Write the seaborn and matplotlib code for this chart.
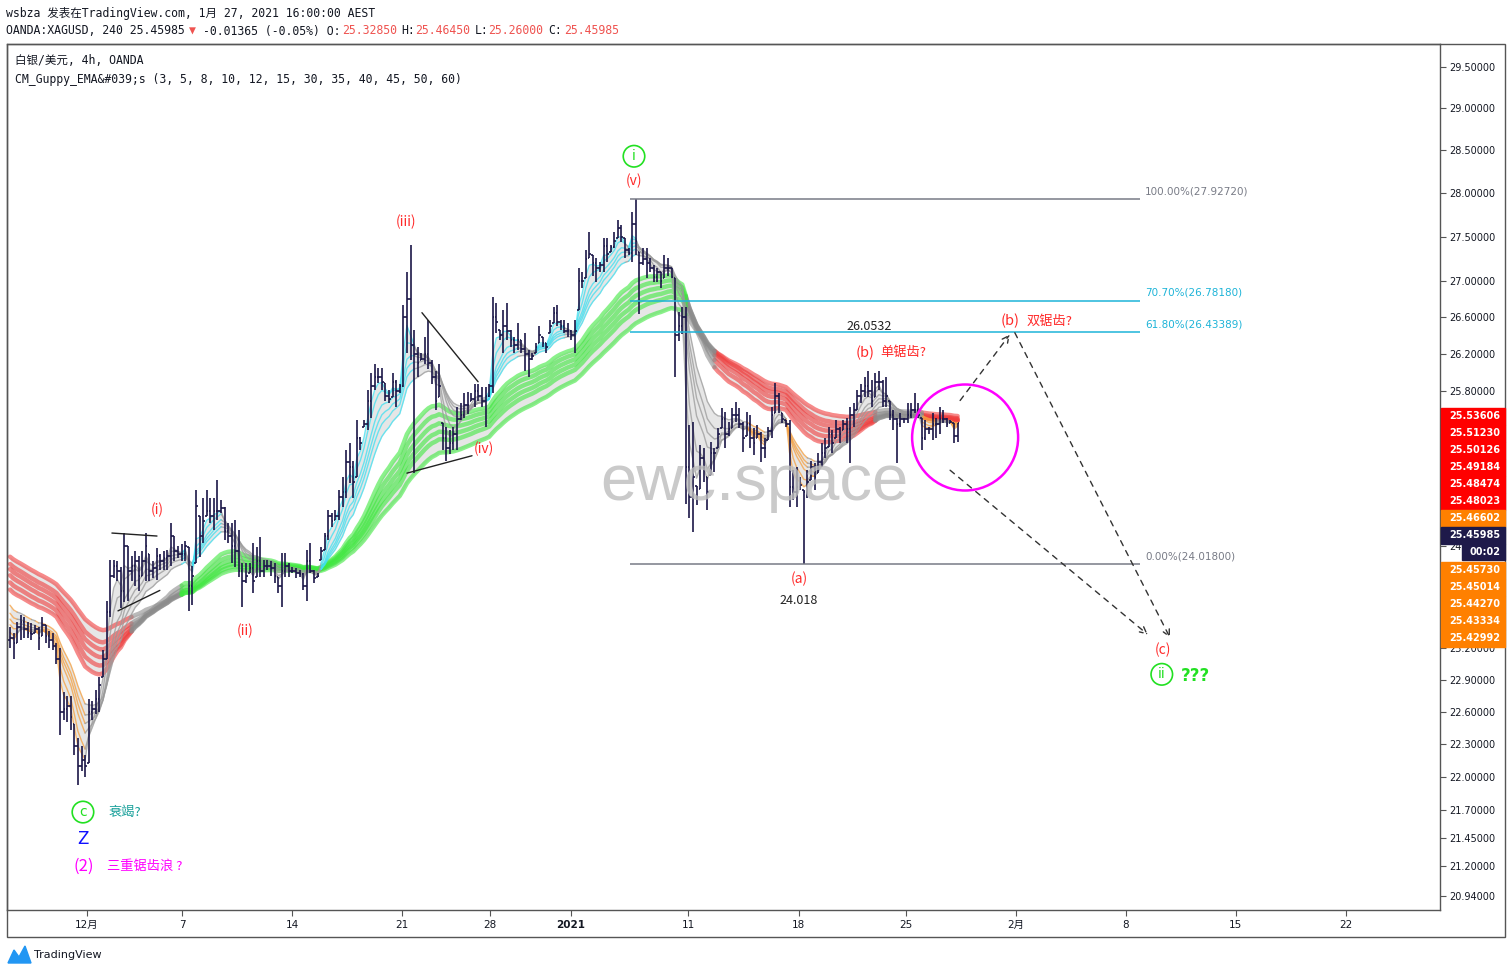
import numpy as np
import pandas as pd
import seaborn as sns
import matplotlib.pyplot as plt
from matplotlib.patches import Rectangle, Ellipse, Polygon

W, H = 1510, 974

# ---- OHLC (4h bars, XAGUSD) ----
highs = [23.40, 23.35, 23.45, 23.52, 23.50, 23.45, 23.44, 23.42, 23.40, 23.50,
         23.42, 23.36, 23.35, 23.25, 23.20, 22.78, 22.75, 22.75, 22.48, 22.35,
         22.28, 22.20, 22.72, 22.70, 22.80, 22.92, 23.18, 23.66, 24.06, 24.06,
         24.05, 23.99, 24.33, 24.20, 24.10, 24.15, 24.10, 24.15, 24.33, 24.12,
         24.05, 24.18, 24.12, 24.15, 24.16, 24.43, 24.30, 24.20, 24.22, 24.25,
         24.19, 24.00,
         24.77, 24.50, 24.69, 24.77, 24.69, 24.69, 24.87, 24.66, 24.59, 24.43,
         24.43, 24.46, 24.36, 24.03, 24.03, 24.03, 24.23, 24.19, 24.29, 24.06,
         24.06, 24.05, 24.03, 23.89, 24.13, 24.13, 24.03, 23.99, 23.98, 23.96,
         23.93, 24.16, 24.23, 23.96, 23.93, 24.19, 24.33, 24.56, 24.53, 24.56,
         24.77, 24.90, 25.18, 25.25, 25.07, 25.49, 25.32, 25.49, 25.81, 25.99,
         26.09, 26.05, 26.05, 25.89, 25.81, 25.99, 25.92, 25.88, 26.74, 27.10,
         27.41, 26.46, 26.28, 26.21, 26.38, 26.57, 26.13, 26.02, 26.09, 25.46,
         25.42, 25.39, 25.42, 25.63, 25.67, 25.78, 25.79, 25.78, 25.88, 25.88,
         25.84, 25.84, 25.88, 26.82, 26.76, 26.46, 26.68, 26.76, 26.46, 26.38,
         26.54, 26.35, 26.43, 26.24, 26.21, 26.32, 26.50, 26.38, 26.32, 26.57,
         26.71, 26.74, 26.57, 26.57, 26.54, 26.46, 26.57, 27.15, 27.10, 27.35,
         27.55, 27.29, 27.26, 27.21, 27.48, 27.49, 27.41, 27.55, 27.69, 27.63,
         27.49, 27.37, 27.78,
         27.927, 27.33, 27.37, 27.37, 27.26, 27.18, 27.15, 27.10, 27.29, 27.26,
         27.15, 27.03, 26.66, 26.71,
         26.71, 25.44, 25.47, 24.81, 25.23, 25.20, 24.90, 25.26, 25.20, 25.41,
         25.62, 25.58, 25.47, 25.62, 25.68, 25.62, 25.47, 25.58, 25.55, 25.41,
         25.44, 25.37, 25.31, 25.42, 25.63, 25.89, 25.78, 25.57, 25.49, 25.49,
         24.97, 25.00, 24.90,
         24.77, 24.97, 25.07, 25.04, 25.15, 25.25, 25.31, 25.42, 25.39, 25.49,
         25.42, 25.49, 25.52, 25.63, 25.67, 25.81, 25.88, 25.95, 26.02, 25.92,
         25.99, 26.02, 25.92, 25.95, 25.70, 25.60, 25.52, 25.57, 25.52, 25.67,
         25.67, 25.78, 25.67, 25.52, 25.49, 25.42, 25.57, 25.52, 25.63, 25.60,
         25.52, 25.49, 25.46, 25.4645]
lows = [23.20, 23.10, 23.25, 23.28, 23.30, 23.30, 23.28, 23.35, 23.18, 23.32,
        23.25, 23.20, 23.18, 23.05, 22.38, 22.52, 22.50, 22.43, 22.20, 21.92,
        22.05, 22.00, 22.12, 22.52, 22.58, 22.60, 22.92, 23.10, 23.50, 23.88,
        23.85, 23.59, 23.65, 23.66, 23.85, 23.80, 23.75, 23.90, 23.85, 23.85,
        23.88, 23.86, 23.96, 23.96, 23.96, 24.00, 24.05, 24.08, 24.05, 24.05,
        23.56, 23.62,
        24.03, 24.09, 24.23, 24.50, 24.43, 24.36, 24.46, 24.53, 24.26, 24.23,
        24.03, 23.99, 23.89, 23.60, 23.83, 23.93, 23.73, 23.89, 23.89, 23.89,
        23.96, 23.90, 23.83, 23.73, 23.60, 23.89, 23.89, 23.93, 23.88, 23.89,
        23.76, 23.66, 23.93, 23.83, 23.89, 24.06, 24.16, 24.26, 24.39, 24.46,
        24.46, 24.59, 24.69, 24.84, 24.69, 24.90, 25.18, 25.42, 25.39, 25.52,
        25.81, 25.89, 25.81, 25.70, 25.67, 25.74, 25.63, 25.78, 25.84, 26.21,
        26.13, 24.94, 25.95, 26.13, 26.09, 26.04, 25.88, 25.60, 25.74, 25.18,
        25.07, 25.14, 25.18, 25.18, 25.49, 25.52, 25.56, 25.70, 25.63, 25.70,
        25.63, 25.42, 25.74, 25.78, 26.43, 26.35, 26.21, 26.35, 26.28, 26.21,
        26.24, 26.21, 26.02, 25.95, 26.13, 26.21, 26.32, 26.28, 26.21, 26.43,
        26.54, 26.50, 26.46, 26.43, 26.38, 26.35, 26.21, 26.68, 26.92, 27.03,
        27.26, 27.06, 26.99, 27.10, 27.10, 27.21, 27.33, 27.37, 27.48, 27.44,
        27.26, 27.29, 27.21,
        27.29, 26.63, 27.18, 27.03, 27.10, 26.99, 26.99, 26.92, 27.03, 27.06,
        27.03, 25.95, 26.34, 26.42,
        24.62, 24.48, 24.34, 24.61, 24.78, 24.85, 24.56, 24.92, 24.95, 25.20,
        25.41, 25.20, 25.33, 25.41, 25.47, 25.41, 25.16, 25.33, 25.20, 25.13,
        25.30, 25.05, 25.10, 25.28, 25.31, 25.57, 25.57, 25.46, 25.42, 24.59,
        24.66, 24.59, 24.77,
        24.018, 24.69, 24.87, 24.77, 24.94, 25.00, 25.10, 25.21, 25.15, 25.31,
        25.25, 25.39, 25.25, 25.04, 25.42, 25.60, 25.67, 25.74, 25.74, 25.63,
        25.74, 25.81, 25.63, 25.63, 25.49, 25.39, 25.04, 25.42, 25.46, 25.46,
        25.52, 25.57, 25.52, 25.18, 25.28, 25.35, 25.28, 25.31, 25.35, 25.46,
        25.42, 25.46, 25.25, 25.26]
closes = [23.30, 23.25, 23.40, 23.45, 23.38, 23.35, 23.34, 23.38, 23.30, 23.42,
          23.32, 23.28, 23.22, 23.10, 22.60, 22.62, 22.65, 22.55, 22.28, 22.10,
          22.15, 22.10, 22.60, 22.62, 22.72, 22.85, 23.10, 23.55, 23.90, 24.00,
          23.95, 23.75, 24.20, 23.95, 24.00, 24.05, 23.90, 24.05, 24.20, 23.95,
          23.98, 24.10, 24.05, 24.08, 24.10, 24.30, 24.15, 24.12, 24.12, 24.20,
          23.80, 23.90,
          24.60, 24.30, 24.45, 24.55, 24.50, 24.55, 24.55, 24.58, 24.35, 24.30,
          24.20, 24.15, 23.95, 23.85, 23.90, 23.98, 23.85, 24.05, 23.95, 24.00,
          24.00, 23.98, 23.90, 23.80, 23.95, 24.00, 23.95, 23.95, 23.93, 23.92,
          23.80, 24.05, 23.95, 23.88, 23.90, 24.15, 24.30, 24.50, 24.45, 24.50,
          24.70, 24.75, 25.05, 25.00, 24.85, 25.30, 25.25, 25.45, 25.70, 25.85,
          25.95, 25.95, 25.90, 25.75, 25.72, 25.90, 25.80, 25.85, 26.60, 26.80,
          26.30, 26.20, 26.10, 26.15, 26.20, 26.10, 25.95, 25.70, 25.85, 25.30,
          25.20, 25.25, 25.35, 25.50, 25.55, 25.65, 25.65, 25.72, 25.80, 25.75,
          25.70, 25.75, 25.85, 26.60, 26.55, 26.40, 26.50, 26.45, 26.35, 26.30,
          26.35, 26.25, 26.20, 26.15, 26.18, 26.28, 26.40, 26.32, 26.28, 26.50,
          26.65, 26.55, 26.50, 26.45, 26.45, 26.40, 26.45, 27.00, 27.00, 27.25,
          27.30, 27.20, 27.15, 27.18, 27.40, 27.30, 27.38, 27.45, 27.60, 27.50,
          27.35, 27.32, 27.65,
          27.45, 27.20, 27.25, 27.20, 27.15, 27.05, 27.10, 27.00, 27.15, 27.15,
          27.05, 26.40, 26.50, 26.60,
          25.00, 24.70, 24.90, 24.70, 25.10, 25.00, 24.75, 25.15, 25.15, 25.35,
          25.50, 25.35, 25.40, 25.55, 25.55, 25.45, 25.30, 25.45, 25.30, 25.25,
          25.35, 25.20, 25.20, 25.38, 25.55, 25.75, 25.65, 25.50, 25.45, 24.80,
          24.75, 24.80, 24.82,
          24.75, 24.85, 25.00, 24.90, 25.05, 25.15, 25.20, 25.35, 25.25, 25.40,
          25.35, 25.45, 25.40, 25.55, 25.60, 25.75, 25.80, 25.85, 25.80, 25.70,
          25.90, 25.90, 25.70, 25.75, 25.55, 25.50, 25.45, 25.50, 25.50, 25.55,
          25.60, 25.60, 25.55, 25.30, 25.40, 25.40, 25.45, 25.45, 25.50, 25.50,
          25.45, 25.47, 25.33, 25.46]
first_open = 23.28

# Guppy EMA settings and their levels at the left edge of the chart
fast_spans = [3, 5, 8, 10, 12, 15]
slow_spans = [30, 35, 40, 45, 50, 60]
fast_seed = [23.32, 23.38, 23.46, 23.52, 23.58, 23.66]
slow_seed = [23.80, 23.87, 23.94, 24.00, 24.05, 24.12]

# fibonacci retracement anchors
fib_high = 27.9272
fib_low = 24.018
fib_ratios = [1.0, 0.707, 0.618, 0.0]

date_labels = ['12月', '7', '14', '21', '28', '2021', '11', '18', '25', '2月', '8', '15', '22']
date_slots = [21.5, 48.1, 78.9, 109.6, 134.2, 156.9, 189.6, 220.6, 250.6, 281.3, 312.1, 342.8, 373.6]
price_ticks = [29.5, 29.0, 28.5, 28.0, 27.5, 27.0, 26.6, 26.2, 25.8, 24.2, 23.2,
               22.9, 22.6, 22.3, 22.0, 21.7, 21.45, 21.2, 20.94]

# last values shown in the price scale
slow_last = ['25.53606', '25.51230', '25.50126', '25.49184', '25.48474', '25.48023']
fast_last_top = ['25.46602']
last_price = '25.45985'
fast_last_bottom = ['25.45730', '25.45014', '25.44270', '25.43334', '25.42992']

sns.set_theme(style='white')
plt.rcParams['font.family'] = ['DejaVu Sans', 'Noto Sans CJK SC']
MONO = ['DejaVu Sans Mono', 'Noto Sans CJK SC']
CJK = ['Noto Sans CJK SC', 'DejaVu Sans']

fig = plt.figure(figsize=(W / 100, H / 100), dpi=100)
fig.patch.set_facecolor('white')
ax = fig.add_axes([7 / W, 1 - 910 / H, (1440 - 7) / W, (910 - 44) / H])
ax.set_facecolor('white')

n = len(closes)
x = np.arange(n)
cl = pd.Series(closes)


def ema(seed, span):
    s = pd.concat([pd.Series([seed]), cl], ignore_index=True)
    return s.ewm(span=span, adjust=False).mean().to_numpy()[1:]


fast = np.array([ema(s0, sp) for s0, sp in zip(fast_seed, fast_spans)])
slow = np.array([ema(s0, sp) for s0, sp in zip(slow_seed, slow_spans)])
fast_up = np.all(fast[:-1] > fast[1:], axis=0)
fast_dn = np.all(fast[:-1] < fast[1:], axis=0)
slow_up = np.all(slow[:-1] > slow[1:], axis=0)
slow_dn = np.all(slow[:-1] < slow[1:], axis=0)
col_fast = np.where(fast_up & slow_up, 'up', np.where(fast_dn & slow_dn, 'dn', 'flat'))
col_slow = np.where(slow_up, 'up', np.where(slow_dn, 'dn', 'flat'))


def runs_frame(lines, cols, unit0):
    rows, unit = [], unit0
    for line in lines:
        i = 1
        while i < n:
            c = cols[i]
            j = i
            while j + 1 < n and cols[j + 1] == c:
                j += 1
            for k in range(i - 1, j + 1):
                rows.append((k, line[k], unit, c))
            unit += 1
            i = j + 1
    return pd.DataFrame(rows, columns=['bar', 'price', 'unit', 'col'])


# grey fills inside each ribbon
ax.fill_between(x, slow.min(0), slow.max(0), color='#e6e6e6', lw=0, zorder=1)
ax.fill_between(x, fast.min(0), fast.max(0), color='#e6e6e6', lw=0, zorder=1)

df_slow = runs_frame(slow, col_slow, 0)
df_fast = runs_frame(fast, col_fast, 100000)
sns.lineplot(data=df_slow, x='bar', y='price', units='unit', hue='col', estimator=None,
             sort=False, palette={'up': '#3ee83e', 'dn': '#f03c3c', 'flat': '#8c8c8c'},
             lw=3.2, alpha=0.6, legend=False, ax=ax, zorder=2)
sns.lineplot(data=df_fast, x='bar', y='price', units='unit', hue='col', estimator=None,
             sort=False, palette={'up': '#3fe0f0', 'dn': '#f5a040', 'flat': '#9a9a9a'},
             lw=1.0, alpha=0.75, legend=False, ax=ax, zorder=2)

# OHLC bars
hi = np.array(highs)
lo = np.array(lows)
opens = np.clip(np.r_[first_open, closes[:-1]], lo, hi)
bar_c = '#1b1748'
ax.vlines(x, lo, hi, color=bar_c, lw=1.2, zorder=3)
ax.hlines(opens, x - 0.45, x, color=bar_c, lw=1.2, zorder=3)
ax.hlines(closes, x, x + 0.45, color=bar_c, lw=1.2, zorder=3)

ax.set_yscale('log')
ax.set_ylim(20.82, 29.78)
ax.set_xlim(-0.84, 399.9)

# fibonacci levels
fib_cols = ['#787b86', '#1eb4d8', '#1eb4d8', '#787b86']
for r, fc in zip(fib_ratios, fib_cols):
    lvl = fib_low + r * (fib_high - fib_low)
    ax.hlines(lvl, 173.4, 316.0, color=fc, lw=1.1, zorder=4)
    ax.text(317.4, lvl * 1.0012, f'{r * 100:.2f}%({lvl:.5f})', color=fc,
            fontsize=7.5, va='bottom', ha='left', zorder=6)

# trend lines drawn on the chart
for (x0, y0), (x1, y1) in [((28.5, 24.33), (41.1, 24.30)), ((30.2, 23.56), (41.9, 23.76)),
                           ((115.2, 26.65), (130.9, 25.90)), ((111.0, 24.94), (129.2, 25.12))]:
    ax.plot([x0, x1], [y0, y1], color='#222222', lw=1.0, zorder=4)

# watermark
ax.text(208.1, 24.66, 'ewc.space', fontsize=47, family='Liberation Sans', color='#bdbdbd',
        alpha=0.8, ha='center', va='baseline', zorder=5)

# Elliott wave labels
red = '#ff2a2a'
labels = [(41.1, 24.56, '(i)', red, 10), (65.7, 23.37, '(ii)', red, 10),
          (110.7, 27.67, '(iii)', red, 10), (132.6, 25.19, '(iv)', red, 10),
          (174.5, 28.14, '(v)', red, 10), (220.6, 23.87, '(a)', red, 10),
          (220.6, 23.66, '24.018', '#222222', 9), (240.2, 26.50, '26.0532', '#222222', 9),
          (239.1, 26.21, '(b)', red, 10.5), (249.9, 26.21, '单锯齿?', red, 9.5),
          (279.6, 26.56, '(b)', red, 10.5), (290.8, 26.56, '双锯齿?', red, 9.5),
          (322.4, 23.18, '(c)', red, 10),
          (32.2, 21.68, '衰竭?', '#18a09a', 9.5), (37.8, 21.20, '三重锯齿浪 ?', '#ff00ff', 9.5),
          (20.7, 21.20, '(2)', '#ff00ff', 12)]
for sx, py, t, c, fs in labels:
    ax.text(sx, py, t, color=c, fontsize=fs, ha='center', va='center', family=CJK, zorder=6)
ax.text(20.4, 21.44, 'Z', color='#1010ff', fontsize=12, ha='center', va='center', zorder=6)
ax.text(331.4, 22.93, '???', color='#22e022', fontsize=12, fontweight='bold',
        ha='center', va='center', zorder=6)
for sx, py, t in [(174.5, 28.43, 'i'), (322.1, 22.95, 'ii'), (20.4, 21.68, 'c')]:
    ax.scatter([sx], [py], s=240, facecolors='none', edgecolors='#22e022', lw=1.2, zorder=6)
    ax.text(sx, py, t, color='#22e022', fontsize=10, ha='center', va='center', zorder=6)

# projection arrows
for (x0, y0), (x1, y1) in [((265.7, 25.70), (279.6, 26.41)), ((281.0, 26.43), (324.4, 23.30)),
                           ((262.9, 24.97), (318.2, 23.33))]:
    ax.annotate('', xy=(x1, y1), xytext=(x0, y0),
                arrowprops=dict(arrowstyle='->', ls=(0, (4, 4)), color='#333333', lw=1.0,
                                shrinkA=0, shrinkB=0), zorder=6)

# magenta circle around the current consolidation
cx, cy = ax.transAxes.inverted().transform(ax.transData.transform((267.1, 25.31)))
ax.add_patch(Ellipse((cx, cy), 106 / 1433, 106 / 866, transform=ax.transAxes,
                     fill=False, ec='#ff00ff', lw=1.8, zorder=6))

# axes styling
ax.yaxis.tick_right()
ax.set_yticks(price_ticks)
ax.set_yticklabels([f'{p:.5f}' for p in price_ticks])
ax.yaxis.set_minor_locator(plt.NullLocator())
ax.set_xticks(date_slots)
ax.set_xticklabels(date_labels)
for lab in ax.get_xticklabels():
    if lab.get_text() == '2021':
        lab.set_fontweight('bold')
ax.tick_params(axis='y', which='major', right=True, length=4, width=0.8, color='#555555',
               labelsize=7, labelcolor='#131722', pad=3, direction='out')
ax.tick_params(axis='x', which='major', bottom=True, length=4, width=0.8, color='#555555',
               labelsize=7.5, labelcolor='#131722', pad=3.5, direction='out')
ax.set_xlabel('')
ax.set_ylabel('')
ax.grid(False)
for sp in ax.spines.values():
    sp.set_color('#555555')
    sp.set_linewidth(1.0)

fig.add_artist(Rectangle((7 / W, 1 - 937 / H), (1505 - 7) / W, (937 - 44) / H,
                         transform=fig.transFigure, fill=False, ec='#555555', lw=1.0))


def fbox(px0, pyc, w, h, color, text):
    fig.add_artist(Rectangle((px0 / W, 1 - (pyc + h / 2) / H), w / W, h / H,
                             transform=fig.transFigure, color=color, zorder=10))
    fig.text((px0 + 8) / W, 1 - pyc / H, text, color='white', fontsize=7, fontweight='bold',
             va='center', ha='left', zorder=11)


py = 416
for t in slow_last:
    fbox(1441, py, 64, 17, '#ff0000', t)
    py += 17
for t in fast_last_top:
    fbox(1441, py, 64, 17, '#ff8000', t)
    py += 17
fbox(1441, py, 64, 17, '#1e1a4a', last_price)
py += 17
fbox(1462, py, 43, 16, '#1e1a4a', '00:02')
py += 18
for t in fast_last_bottom:
    fbox(1441, py, 64, 17, '#ff8000', t)
    py += 17

# header
fig.text(6 / W, 1 - 13 / H, 'wsbza 发表在TradingView.com, 1月 27, 2021 16:00:00 AEST',
         fontsize=8.3, family=MONO, color='#131722', va='center')
head = [('OANDA:XAGUSD, 240 25.45985', '#131722', 6), ('▼', '#ef5350', 189),
        ('-0.01365 (-0.05%) O:', '#131722', 203), ('25.32850', '#ef5350', 342),
        ('H:', '#131722', 401), ('25.46450', '#ef5350', 415), ('L:', '#131722', 475),
        ('25.26000', '#ef5350', 488), ('C:', '#131722', 548), ('25.45985', '#ef5350', 564)]
for t, c, px in head:
    fig.text(px / W, 1 - 31 / H, t, fontsize=8.3, family=MONO, color=c, va='center')
fig.text(15 / W, 1 - 61 / H, '白银/美元, 4h, OANDA', fontsize=8.3, family=MONO, color='#131722',
         va='center')
fig.text(15 / W, 1 - 79 / H, 'CM_Guppy_EMA&#039;s (3, 5, 8, 10, 12, 15, 30, 35, 40, 45, 50, 60)',
         fontsize=8.3, family=MONO, color='#131722', va='center')

# footer logo
fig.add_artist(Polygon([(8 / W, 1 - 963 / H), (14 / W, 1 - 950 / H), (19 / W, 1 - 957 / H),
                        (25 / W, 1 - 946 / H), (31 / W, 1 - 963 / H)],
                       closed=True, transform=fig.transFigure, color='#2196f3'))
fig.text(34 / W, 1 - 955 / H, 'TradingView', fontsize=8, color='#131722', va='center')

fig.savefig('out.png', dpi=100, facecolor='white')
